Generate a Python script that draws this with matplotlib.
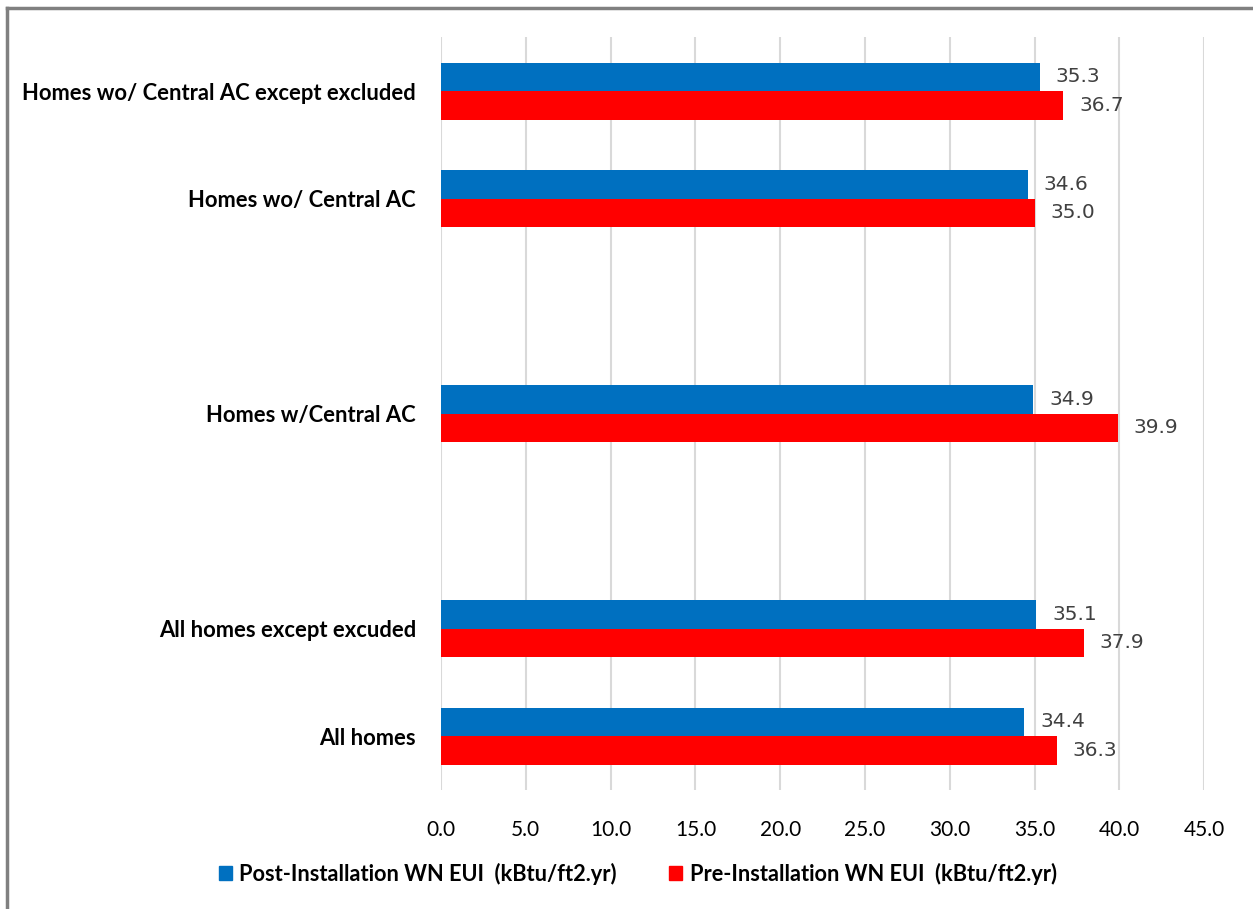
import numpy as np
import matplotlib
matplotlib.use("Agg")
import matplotlib.pyplot as plt
from matplotlib.lines import Line2D
from matplotlib.patches import Patch

# categories bottom -> top; empty strings are spacer slots
categories = ["All homes", "All homes except excuded", "",
              "Homes w/Central AC", "",
              "Homes wo/ Central AC", "Homes wo/ Central AC except excluded"]
post_eui = [34.4, 35.1, np.nan, 34.9, np.nan, 34.6, 35.3]
pre_eui = [36.3, 37.9, np.nan, 39.9, np.nan, 35.0, 36.7]
series_names = ["Post-Installation WN EUI  (kBtu/ft2.yr)",
                "Pre-Installation WN EUI  (kBtu/ft2.yr)"]
xticks = np.arange(0, 46, 5)

BLUE = "#0070C0"
RED = "#FF0000"
LBL = ["Lato", "DejaVu Sans"]
NUM = ["Liberation Sans Narrow", "Lato", "DejaVu Sans"]

fig = plt.figure(figsize=(12.53, 9.09), dpi=100)
ax = fig.add_axes([0.352, 0.131, 0.609, 0.828])

y = np.arange(len(categories))
h = 0.265
ax.barh(y + h / 2, post_eui, height=h, color=BLUE, label=series_names[0], zorder=3)
ax.barh(y - h / 2, pre_eui, height=h, color=RED, label=series_names[1], zorder=3)

for yi, v in zip(y, post_eui):
    if not np.isnan(v):
        ax.text(v + 0.95, yi + h / 2, f"{v:.1f}", va="center", ha="left",
                fontsize=14.5, color="#404040", family=["DejaVu Sans"])
for yi, v in zip(y, pre_eui):
    if not np.isnan(v):
        ax.text(v + 0.95, yi - h / 2, f"{v:.1f}", va="center", ha="left",
                fontsize=14.5, color="#404040", family=["DejaVu Sans"])

ax.set_xlim(0, 45)
ax.set_ylim(-0.5, len(categories) - 0.5)
ax.set_xticks(xticks)
ax.set_xticklabels([f"{t:.1f}" for t in xticks], family=NUM, fontsize=15)
ax.set_yticks(y)
ax.set_yticklabels(categories, family=LBL, fontweight="bold", fontsize=15.8)
ax.tick_params(axis="both", length=0)
ax.tick_params(axis="x", pad=22)
ax.tick_params(axis="y", pad=18)
ax.grid(axis="x", color="#D9D9D9", linewidth=1.5, zorder=0)
for s in ax.spines.values():
    s.set_visible(False)

handles = [Patch(color=BLUE), Patch(color=RED)]
fig.legend(handles, series_names, loc="center", bbox_to_anchor=(0.509, 0.039),
           ncol=2, frameon=False, handlelength=0.6, handleheight=0.6,
           handletextpad=0.35, columnspacing=2.4,
           prop={"family": LBL, "weight": "bold", "size": 15.7})

# outer chart border (left and top visible)
fig.add_artist(Line2D([0.0056, 0.0056], [0, 0.991], color="#808080", lw=2.5,
                      transform=fig.transFigure))
fig.add_artist(Line2D([0.0056, 1.0], [0.991, 0.991], color="#808080", lw=2.5,
                      transform=fig.transFigure))

fig.savefig("out.png", dpi=100)
